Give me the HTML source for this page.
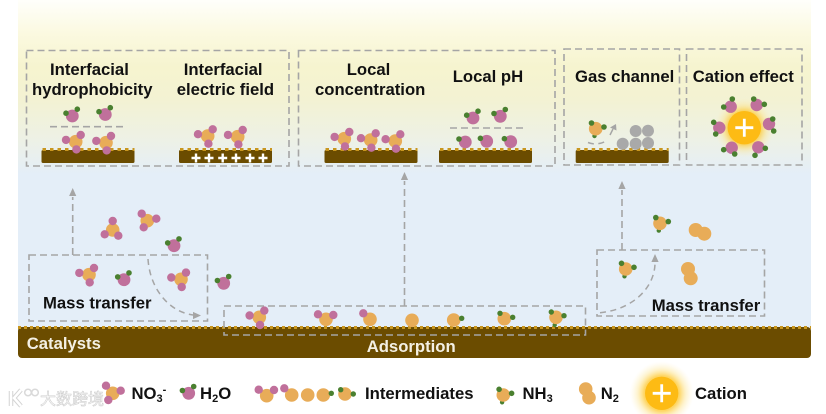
<!DOCTYPE html>
<html><head><meta charset="utf-8"><style>
html,body{margin:0;padding:0;background:#fff;width:826px;height:414px;overflow:hidden}
svg{display:block}
text{font-family:"Liberation Sans",sans-serif;font-weight:bold;fill:#111;font-size:16.7px}
.o{fill:#e8ac58}.p{fill:#c0709b}.g{fill:#4a8030}
.d{fill:none;stroke:#a5a5a5;stroke-width:1.6;stroke-dasharray:7 4}
.c{fill:none;stroke:#a5a5a5;stroke-width:1.5;stroke-dasharray:6 4.500}
.a{fill:#a5a5a5}
</style></head><body>
<svg width="826" height="414" viewBox="0 0 826 414" xmlns="http://www.w3.org/2000/svg">
<defs>
<linearGradient id="bg" x1="0" y1="0" x2="0" y2="1">
<stop offset="0" stop-color="#fffffb"/><stop offset=".1" stop-color="#fbf9e0"/><stop offset=".2" stop-color="#f6f4cf"/><stop offset=".3" stop-color="#f3f2d3"/><stop offset=".42" stop-color="#edf1e6"/><stop offset=".52" stop-color="#e4eef8"/><stop offset="1" stop-color="#e4eef8"/>
</linearGradient>
<radialGradient id="glow"><stop offset=".55" stop-color="#fdc830" stop-opacity=".75"/><stop offset=".75" stop-color="#fde080" stop-opacity=".4"/><stop offset="1" stop-color="#fdf0c0" stop-opacity="0"/></radialGradient>
<g id="s"><rect x="0" y="1" width="93" height="13" rx="1.5" fill="#6b4c00"/><line x1="1" x2="93" y1="0.500" y2="0.500" stroke="#c8961e" stroke-width="3" stroke-dasharray="3.500 4"/></g>
<g id="n"><circle class="o" r="6.800"/><circle class="p" cx="-9.700" cy="-1.800" r="4.200"/><circle class="p" cx="5" cy="-6.700" r="4.200"/><circle class="p" cx="0.700" cy="7.700" r="4.200"/></g>
<g id="w"><circle class="p" r="6.400"/><circle class="g" cx="-6.300" cy="-2.800" r="2.800"/><circle class="g" cx="5" cy="-6.800" r="2.800"/></g>
<g id="w1"><circle class="p" r="6.400"/><circle class="g" cx="-6.300" cy="-3" r="2.800"/></g>
<g id="h"><circle class="g" cx="-1.200" cy="7.300" r="2.200"/><circle class="o" r="6.800"/><circle class="g" cx="-4.200" cy="-5.700" r="2.800"/><circle class="g" cx="8.300" cy="-1.700" r="2.800"/></g>
</defs>

<rect x="18" y="0" width="793" height="335" fill="url(#bg)"/>
<rect x="18" y="327" width="793" height="31" rx="4" fill="#6b4c00"/>
<line x1="18" x2="811" y1="327.500" y2="327.500" stroke="#c8961e" stroke-width="3" stroke-dasharray="3 3"/>

<!-- boxes -->
<rect class="d" x="26.500" y="50.500" width="262.500" height="115.500"/>
<rect class="d" x="298.500" y="50.500" width="256.500" height="115.500"/>
<rect class="d" x="564" y="49" width="115.500" height="116"/>
<rect class="d" x="686.500" y="49" width="115.500" height="116"/>
<rect class="d" x="29" y="255" width="178.500" height="66"/>
<rect class="d" x="224" y="306" width="361.500" height="29"/>
<rect class="d" x="597" y="250" width="167.500" height="66"/>

<!-- arrows -->
<path class="d" d="M72.700 255V197"/><path class="a" d="M72.700 188l-3.600 8h7.200z"/>
<path class="d" d="M404.500 306V181"/><path class="a" d="M404.500 172l-3.600 8h7.200z"/>
<path class="d" d="M622 250V190"/><path class="a" d="M622 181l-3.600 8h7.200z"/>
<path class="c" d="M148 259C150 290 170 312 193 315"/><path class="a" d="M201 315.500l-8-3.600v7.200z"/>
<path class="c" d="M600 312.700C630 310 654 290 655 264"/><path class="a" d="M655 254l-3.600 8h7.200z"/>
<path class="d" d="M50 126.700H127"/><path class="d" d="M450 128H527"/>

<!-- surfaces -->
<use href="#s" x="41.500" y="149"/><use href="#s" x="179" y="149"/><use href="#s" x="324.500" y="149"/><use href="#s" x="439" y="149"/><use href="#s" x="575.700" y="149"/>

<!-- panel molecules -->
<use href="#w" x="72.300" y="116"/><use href="#w" x="105.300" y="114.500"/>
<use href="#n" x="75.700" y="141.700"/><use href="#n" x="106" y="142.700"/>
<use href="#n" x="207.700" y="136"/><use href="#n" x="237.700" y="136.700"/>
<g fill="#fff"><path d="M191.500 156.800h9v2.400h-9zM194.800 153.500h2.400v9h-2.400zM204.500 156.800h9v2.400h-9zM207.800 153.500h2.400v9h-2.400zM218.200 156.800h9v2.400h-9zM221.500 153.500h2.400v9h-2.400zM231.500 156.800h9v2.400h-9zM234.800 153.500h2.400v9h-2.400zM245.500 156.800h9v2.400h-9zM248.800 153.500h2.400v9h-2.400zM258.500 156.800h9v2.400h-9zM261.800 153.500h2.400v9h-2.400z"/></g>
<use href="#n" x="344.300" y="138.700"/><use href="#n" x="370.700" y="140"/><use href="#n" x="395.300" y="141"/>
<use href="#w" x="473" y="118"/><use href="#w" x="500.300" y="116.300"/>
<use href="#w1" x="465.300" y="142"/><use href="#w1" x="486.700" y="141.300"/><use href="#w1" x="510.700" y="141.700"/>
<use href="#h" x="595.700" y="128.700"/>
<path class="c" d="M588 142.500C594 145 602 144 608 140" stroke-dasharray="5 4"/>
<path d="M610 135L613 129" stroke="#a5a5a5" stroke-width="1.500" fill="none"/><path class="a" d="M616 124l-6 3.500 6.500 3z"/>
<g fill="#a9a9a9"><circle cx="622.700" cy="143.700" r="6"/><circle cx="635.700" cy="143.700" r="6"/><circle cx="648" cy="143" r="6"/><circle cx="635.700" cy="131" r="6"/><circle cx="648" cy="130.700" r="6"/></g>

<!-- cation -->
<circle cx="744.300" cy="127.700" r="30" fill="url(#glow)"/>
<circle cx="744.300" cy="127.700" r="16.700" fill="#fdbb14"/>
<path d="M735.300 126.300h18v2.800h-18zM742.900 118.700h2.800v18h-2.800z" fill="#fff"/>
<circle class="p" cx="730.700" cy="106.700" r="6.200"/><circle class="g" cx="732.300" cy="99" r="2.800"/><circle class="g" cx="723.700" cy="107" r="2.800"/>
<circle class="p" cx="756.700" cy="105" r="6.200"/><circle class="g" cx="753.700" cy="99" r="2.800"/><circle class="g" cx="764.300" cy="104.300" r="2.800"/>
<circle class="p" cx="769" cy="124" r="6.200"/><circle class="g" cx="772.700" cy="119" r="2.800"/><circle class="g" cx="773.700" cy="131" r="2.800"/>
<circle class="p" cx="758.300" cy="147.300" r="6.200"/><circle class="g" cx="765.300" cy="148.300" r="2.800"/><circle class="g" cx="755" cy="155.300" r="2.800"/>
<circle class="p" cx="731.700" cy="147.700" r="6.200"/><circle class="g" cx="723.700" cy="149.700" r="2.800"/><circle class="g" cx="734.700" cy="154" r="2.800"/>
<circle class="p" cx="719.300" cy="127.700" r="6.200"/><circle class="g" cx="713.700" cy="122.300" r="2.800"/><circle class="g" cx="715.700" cy="134" r="2.800"/>

<!-- free molecules left -->
<g><circle class="o" cx="112.700" cy="230" r="6.800"/><circle class="p" cx="112.700" cy="221" r="4.200"/><circle class="p" cx="104.700" cy="234.300" r="4.200"/><circle class="p" cx="118.300" cy="235.700" r="4.200"/></g>
<g><circle class="o" cx="147.300" cy="220.700" r="6.800"/><circle class="p" cx="141.700" cy="213.700" r="4.200"/><circle class="p" cx="156.300" cy="218.700" r="4.200"/><circle class="p" cx="143.700" cy="227.300" r="4.200"/></g>
<use href="#w" x="174" y="245.700"/>
<use href="#n" x="89" y="274.700"/>
<use href="#w" x="124" y="279.700"/>
<use href="#n" x="181" y="279.300"/>
<use href="#w" x="223.700" y="283.300"/>

<!-- adsorption row -->
<use href="#n" x="259.300" y="317.300"/>
<circle class="o" cx="326" cy="319.300" r="6.800"/><circle class="p" cx="318" cy="314.300" r="4.200"/><circle class="p" cx="333.300" cy="315" r="4.200"/>
<circle class="o" cx="370" cy="319.300" r="6.800"/><circle class="p" cx="363.300" cy="313.300" r="4.200"/>
<circle class="o" cx="412" cy="320.300" r="6.800"/>
<circle class="o" cx="453.700" cy="320" r="6.800"/><circle class="g" cx="461.700" cy="318.300" r="2.700"/>
<circle class="o" cx="504.300" cy="318.700" r="6.800"/><circle class="g" cx="500" cy="313.300" r="2.700"/><circle class="g" cx="512.700" cy="317.300" r="2.700"/>
<circle class="g" cx="554.700" cy="325" r="2.200"/><circle class="o" cx="556" cy="317.300" r="6.800"/><circle class="g" cx="551.300" cy="312" r="2.700"/><circle class="g" cx="564" cy="315.700" r="2.700"/>

<!-- right -->
<use href="#h" x="660" y="223.300"/>
<circle class="o" cx="695.700" cy="230" r="7"/><circle class="o" cx="704.300" cy="233.700" r="7"/>
<use href="#h" x="625.700" y="269"/>
<circle class="o" cx="688" cy="269" r="7"/><circle class="o" cx="690.700" cy="278.300" r="7"/>

<!-- labels -->
<text x="50" y="75">Interfacial</text>
<text x="32" y="95">hydrophobicity</text>
<text x="183.700" y="75">Interfacial</text>
<text x="176.700" y="95">electric field</text>
<text x="346.700" y="75">Local</text>
<text x="315" y="95">concentration</text>
<text x="452.700" y="82">Local pH</text>
<text x="575" y="82">Gas channel</text>
<text x="692.700" y="82">Cation effect</text>
<text x="43" y="308.500">Mass transfer</text>
<text x="651.700" y="311">Mass transfer</text>
<text x="26.700" y="349" style="fill:#f4f0e4">Catalysts</text>
<text x="366.700" y="352" style="fill:#f4f0e4">Adsorption</text>

<!-- legend -->
<g><circle class="o" cx="112.700" cy="393.300" r="6.800"/><circle class="p" cx="106" cy="385.700" r="4.200"/><circle class="p" cx="120.700" cy="390.700" r="4.200"/><circle class="p" cx="108.300" cy="400" r="4.200"/></g>
<text x="131.500" y="399">NO<tspan font-size="11" dy="3">3</tspan><tspan font-size="11" dy="-9">-</tspan></text>
<use href="#w" x="188.700" y="393.300"/>
<text x="200" y="399">H<tspan font-size="11" dy="3">2</tspan><tspan dy="-3">O</tspan></text>
<circle class="o" cx="266.700" cy="395.700" r="6.800"/><circle class="p" cx="258.700" cy="389.700" r="4.200"/><circle class="p" cx="274" cy="390" r="4.200"/>
<circle class="o" cx="291.700" cy="395" r="6.800"/><circle class="p" cx="284.300" cy="388.300" r="4.200"/>
<circle class="o" cx="307.700" cy="395" r="6.800"/>
<circle class="o" cx="323.300" cy="395" r="6.800"/><circle class="g" cx="331.300" cy="393.300" r="2.700"/>
<circle class="o" cx="345" cy="394" r="6.800"/><circle class="g" cx="340.700" cy="389.700" r="2.700"/><circle class="g" cx="353.300" cy="394" r="2.700"/>
<text x="365" y="399">Intermediates</text>
<use href="#h" x="503.300" y="395"/>
<text x="522.500" y="399">NH<tspan font-size="11" dy="3">3</tspan></text>
<circle class="o" cx="585.700" cy="389" r="6.800"/><circle class="o" cx="589" cy="397.700" r="6.800"/>
<text x="600.700" y="399">N<tspan font-size="11" dy="3">2</tspan></text>
<circle cx="661.700" cy="393.300" r="32" fill="url(#glow)"/>
<circle cx="661.700" cy="393.300" r="16.700" fill="#fdbb14"/>
<path d="M652.700 391.900h18v2.800h-18zM660.300 384.300h2.800v18h-2.800z" fill="#fff"/>
<text x="695" y="399">Cation</text>

<!-- watermark -->
<g opacity=".9">
<path d="M11 391v15M21 390l-7 8 7 8" fill="none" stroke="#cfcfcf" stroke-width="4.500"/>
<path d="M11 391v15M21 390l-7 8 7 8" fill="none" stroke="#fff" stroke-width="2.500"/>
<circle cx="28" cy="392.500" r="3.300" fill="#fff" stroke="#d5d5d5" stroke-width="1.500"/><circle cx="35" cy="392.500" r="3.300" fill="#fff" stroke="#d5d5d5" stroke-width="1.500"/>
<text x="40" y="404.500" style="font-family:'Liberation Sans','Noto Sans CJK SC',sans-serif;font-size:16px;font-weight:normal;fill:#fff;stroke:#c9c9c9;stroke-width:.6">大数跨境</text>
</g>
</svg>
</body></html>
